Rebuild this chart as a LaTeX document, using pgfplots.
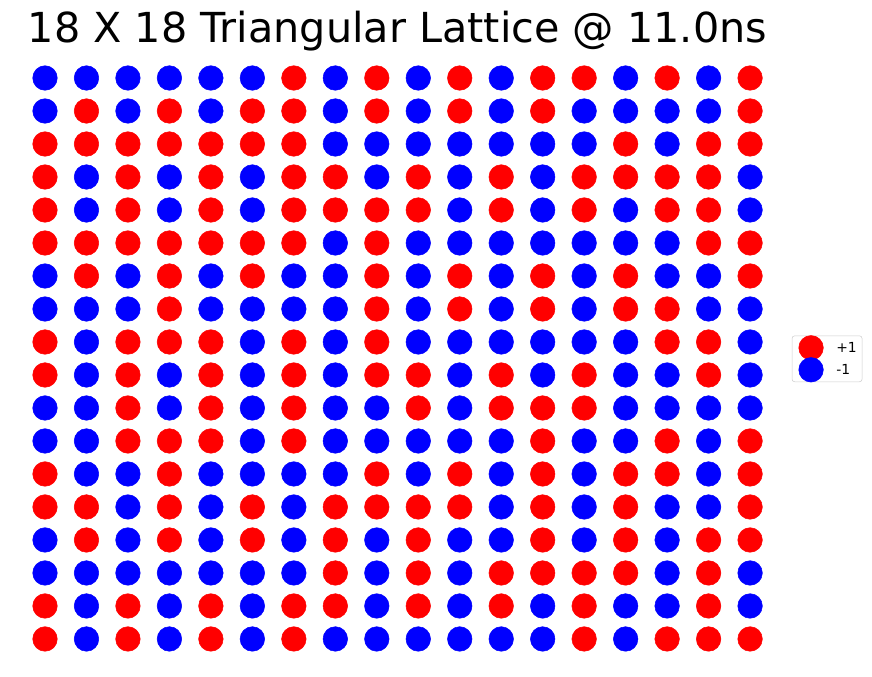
\documentclass[border=0pt]{standalone}
\usepackage{fontspec}
\setmainfont{DejaVu Sans}
\usepackage{pgfplots}
\pgfplotsset{compat=1.18}

% 1 px of the reference = 0.75pt
\pgfplotsset{
  spin/.style={only marks, mark=*, mark size=9.2pt,
    legend image code/.code={%
      \path[draw=none, fill=none] (0pt,-8.25pt) rectangle (20pt,8.25pt);
      \draw[##1, overlay] plot coordinates {(10.25pt,0pt)};}},
}

\begin{document}
\begin{tikzpicture}
\begin{axis}[
  scale only axis,
  width=654pt, height=507.75pt,
  xmin=-1.085, xmax=19.94,
  ymin=-1.152, ymax=19.364,
  hide axis, clip=false,
  title={18 X 18 Triangular Lattice @ 11.0ns},
  title style={at={(0.4558,0.9247)}, anchor=base, inner sep=0pt,
    font=\fontsize{31}{37}\selectfont},
  legend cell align=left,
  legend style={at={(rel axis cs:0.908,0.470)}, anchor=west,
    draw=black!20, rounded corners=2pt, fill=white,
    inner xsep=4pt, inner ysep=0.75pt, row sep=0pt, column sep=9.2pt,
    nodes={inner sep=0pt, text depth=0pt},
    font=\fontsize{10.4}{12}\selectfont},
]
\path (rel axis cs:0,0) rectangle (rel axis cs:1,1);

% spin +1
\addplot[spin, color=red] coordinates {
(6,17) (8,17) (10,17) (12,17) (13,17) (15,17) (17,17)
(1,16) (3,16) (5,16) (6,16) (8,16) (10,16) (12,16) (17,16)
(0,15) (1,15) (2,15) (3,15) (4,15) (5,15) (6,15) (14,15) (16,15) (17,15)
(0,14) (2,14) (4,14) (6,14) (7,14) (9,14) (11,14) (13,14) (14,14) (15,14) (16,14)
(0,13) (2,13) (4,13) (6,13) (7,13) (8,13) (9,13) (11,13) (13,13) (15,13) (16,13)
(0,12) (1,12) (2,12) (3,12) (4,12) (5,12) (6,12) (8,12) (16,12) (17,12)
(1,11) (3,11) (5,11) (8,11) (10,11) (12,11) (14,11) (17,11)
(3,10) (8,10) (10,10) (12,10) (14,10) (15,10)
(0,9) (2,9) (3,9) (4,9) (6,9) (8,9) (15,9) (16,9)
(0,8) (2,8) (4,8) (6,8) (8,8) (9,8) (11,8) (13,8) (16,8)
(2,7) (4,7) (6,7) (9,7) (11,7) (12,7) (13,7)
(2,6) (3,6) (4,6) (6,6) (12,6) (15,6) (17,6)
(0,5) (3,5) (8,5) (10,5) (12,5) (14,5) (15,5) (17,5)
(0,4) (1,4) (3,4) (5,4) (7,4) (8,4) (9,4) (10,4) (12,4) (14,4) (17,4)
(1,3) (3,3) (5,3) (7,3) (9,3) (12,3) (14,3) (16,3) (17,3)
(7,2) (9,2) (11,2) (12,2) (13,2) (14,2) (16,2)
(0,1) (2,1) (4,1) (6,1) (7,1) (9,1) (11,1) (13,1) (16,1)
(0,0) (2,0) (4,0) (6,0) (13,0) (15,0) (16,0) (17,0)
};
\addlegendentry{+1}

% spin -1
\addplot[spin, color=blue] coordinates {
(0,17) (1,17) (2,17) (3,17) (4,17) (5,17) (7,17) (9,17) (11,17) (14,17) (16,17)
(0,16) (2,16) (4,16) (7,16) (9,16) (11,16) (13,16) (14,16) (15,16) (16,16)
(7,15) (8,15) (9,15) (10,15) (11,15) (12,15) (13,15) (15,15)
(1,14) (3,14) (5,14) (8,14) (10,14) (12,14) (17,14)
(1,13) (3,13) (5,13) (10,13) (12,13) (14,13) (17,13)
(7,12) (9,12) (10,12) (11,12) (12,12) (13,12) (14,12) (15,12)
(0,11) (2,11) (4,11) (6,11) (7,11) (9,11) (11,11) (13,11) (15,11) (16,11)
(0,10) (1,10) (2,10) (4,10) (5,10) (6,10) (7,10) (9,10) (11,10) (13,10) (16,10) (17,10)
(1,9) (5,9) (7,9) (9,9) (10,9) (11,9) (12,9) (13,9) (14,9) (17,9)
(1,8) (3,8) (5,8) (7,8) (10,8) (12,8) (14,8) (15,8) (17,8)
(0,7) (1,7) (3,7) (5,7) (7,7) (8,7) (10,7) (14,7) (15,7) (16,7) (17,7)
(0,6) (1,6) (5,6) (7,6) (8,6) (9,6) (10,6) (11,6) (13,6) (14,6) (16,6)
(1,5) (2,5) (4,5) (5,5) (6,5) (7,5) (9,5) (11,5) (13,5) (16,5)
(2,4) (4,4) (6,4) (11,4) (13,4) (15,4) (16,4)
(0,3) (2,3) (4,3) (6,3) (8,3) (10,3) (11,3) (13,3) (15,3)
(0,2) (1,2) (2,2) (3,2) (4,2) (5,2) (6,2) (8,2) (10,2) (15,2) (17,2)
(1,1) (3,1) (5,1) (8,1) (10,1) (12,1) (14,1) (15,1) (17,1)
(1,0) (3,0) (5,0) (7,0) (8,0) (9,0) (10,0) (11,0) (12,0) (14,0)
};
\addlegendentry{-1}
\end{axis}
\end{tikzpicture}
\end{document}
